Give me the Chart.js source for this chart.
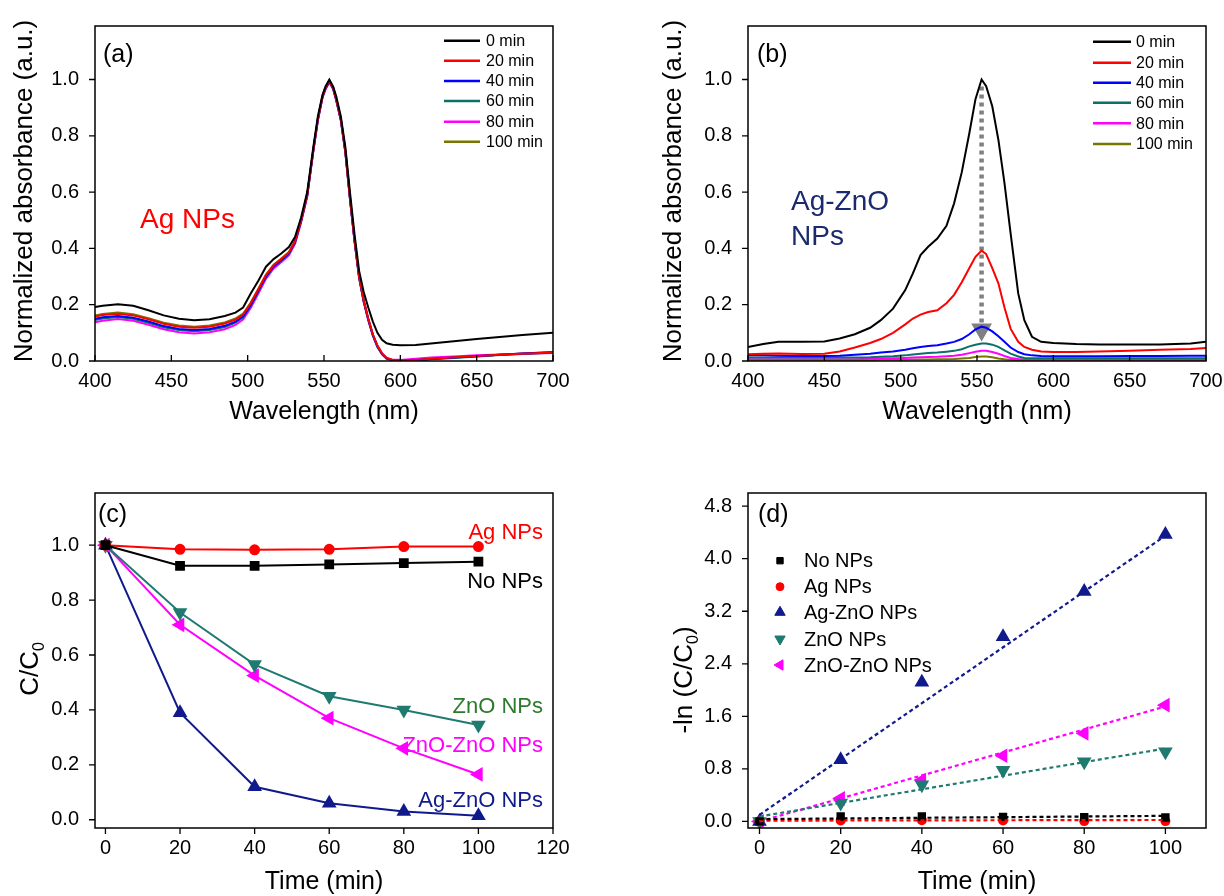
<!DOCTYPE html>
<html>
<head>
<meta charset="utf-8">
<script src="https://cdn.jsdelivr.net/npm/chart.js@4.4.1/dist/chart.umd.min.js"></script>
<style>
  body { margin: 0; background: #fff; width: 1224px; height: 896px; position: relative; overflow: hidden; }
  canvas { position: absolute; }
</style>
</head>
<body>
<canvas id="cA" width="612" height="448" style="left:0;top:0"></canvas>
<canvas id="cB" width="640" height="448" style="left:612px;top:0"></canvas>
<canvas id="cC" width="612" height="448" style="left:0;top:448px"></canvas>
<canvas id="cD" width="640" height="448" style="left:612px;top:448px"></canvas>
<script>
// ── data ─────────────────────────────────────────
const wlA = [400,405,415,425,435,445,455,465,475,485, 492,497,502,507,512,517,522,527,531,535,
  539,543,546,549,551,553.5,556,558,561,564, 567,570,573,576,579,582,585,588,591,595,
  600,610,620,635,650,665,680,700];
const absA0 = [0.192,0.196,0.202,0.196,0.180,0.162,0.150,0.145,0.148,0.160, 0.172,0.190,0.240,0.285,0.335,0.362,0.382,0.405,0.440,0.510,
  0.600,0.760,0.870,0.945,0.975,1.000,0.975,0.940,0.870,0.760, 0.600,0.450,0.320,0.245,0.190,0.140,0.100,0.075,0.063,0.058,
  0.056,0.057,0.062,0.070,0.078,0.085,0.092,0.100];
const absA20 = [0.158,0.163,0.168,0.162,0.148,0.132,0.122,0.118,0.122,0.133, 0.147,0.165,0.205,0.255,0.305,0.340,0.362,0.385,0.425,0.500,
  0.590,0.750,0.860,0.940,0.970,0.995,0.970,0.930,0.860,0.745, 0.580,0.430,0.300,0.215,0.150,0.095,0.055,0.028,0.012,0.004,
  0.002,0.004,0.008,0.013,0.018,0.022,0.026,0.030];
const absA40 = [0.150,0.155,0.160,0.154,0.140,0.124,0.114,0.110,0.114,0.125, 0.140,0.158,0.198,0.250,0.300,0.336,0.358,0.382,0.422,0.497,
  0.588,0.748,0.858,0.938,0.968,0.993,0.968,0.928,0.858,0.742, 0.578,0.428,0.298,0.213,0.148,0.093,0.053,0.026,0.010,0.003,
  0.001,0.003,0.007,0.012,0.017,0.022,0.027,0.031];
const absA60 = [0.146,0.151,0.156,0.150,0.136,0.120,0.110,0.106,0.110,0.121, 0.136,0.155,0.195,0.247,0.298,0.334,0.356,0.380,0.420,0.496,
  0.587,0.747,0.857,0.937,0.967,0.992,0.967,0.927,0.857,0.741, 0.577,0.426,0.296,0.211,0.146,0.091,0.050,0.024,0.008,0.002,
  0.000,0.002,0.006,0.011,0.016,0.021,0.025,0.029];
const absA80 = [0.138,0.143,0.149,0.143,0.129,0.113,0.102,0.098,0.102,0.113, 0.128,0.147,0.188,0.240,0.292,0.329,0.351,0.375,0.416,0.492,
  0.584,0.745,0.855,0.935,0.965,0.990,0.965,0.925,0.855,0.740, 0.576,0.425,0.295,0.210,0.145,0.090,0.050,0.024,0.009,0.004,
  0.004,0.008,0.012,0.016,0.020,0.023,0.026,0.028];
const absA100 = [0.162,0.167,0.172,0.166,0.152,0.136,0.126,0.122,0.126,0.137, 0.151,0.168,0.208,0.257,0.307,0.342,0.364,0.387,0.427,0.502,
  0.592,0.752,0.862,0.942,0.972,0.997,0.972,0.932,0.862,0.747, 0.582,0.432,0.302,0.216,0.150,0.094,0.053,0.026,0.010,0.003,
  0.001,0.003,0.007,0.012,0.017,0.022,0.027,0.032];

const wlB = [400,410,420,435,450,460,470,480,487,495, 503,508,513,518,524,530,535,540,545,549,
  553,556,560,564,568,572,577,581,586,592, 600,615,630,650,670,690,700];
const absB0 = [0.050,0.060,0.068,0.068,0.069,0.080,0.095,0.118,0.145,0.186, 0.252,0.311,0.376,0.406,0.435,0.480,0.560,0.670,0.810,0.930,
  1.000,0.976,0.905,0.786,0.632,0.454,0.240,0.145,0.086,0.068, 0.064,0.060,0.059,0.059,0.059,0.062,0.068];
const absB20 = [0.024,0.026,0.027,0.025,0.026,0.034,0.048,0.064,0.078,0.100, 0.130,0.151,0.165,0.174,0.180,0.205,0.235,0.280,0.330,0.370,
  0.392,0.380,0.330,0.276,0.190,0.115,0.068,0.050,0.040,0.034, 0.032,0.032,0.034,0.036,0.040,0.043,0.046];
const absB40 = [0.020,0.020,0.019,0.018,0.018,0.019,0.022,0.026,0.030,0.034, 0.040,0.045,0.050,0.053,0.056,0.062,0.068,0.078,0.095,0.112,
  0.122,0.118,0.105,0.088,0.068,0.048,0.032,0.024,0.020,0.018, 0.017,0.017,0.017,0.018,0.018,0.019,0.019];
const absB60 = [0.012,0.012,0.012,0.012,0.012,0.012,0.012,0.013,0.015,0.017, 0.020,0.023,0.026,0.028,0.030,0.033,0.036,0.042,0.052,0.058,
  0.062,0.062,0.058,0.050,0.038,0.026,0.016,0.011,0.010,0.010, 0.010,0.010,0.010,0.010,0.010,0.010,0.010];
const absB80 = [0.006,0.006,0.006,0.006,0.006,0.006,0.006,0.008,0.009,0.010, 0.011,0.012,0.013,0.014,0.015,0.017,0.019,0.022,0.028,0.033,
  0.036,0.036,0.032,0.026,0.018,0.011,0.007,0.005,0.005,0.005, 0.005,0.005,0.005,0.005,0.005,0.005,0.005];
const absB100 = [0.003,0.003,0.003,0.003,0.003,0.003,0.003,0.003,0.004,0.004, 0.004,0.005,0.005,0.005,0.006,0.006,0.007,0.009,0.011,0.014,
  0.016,0.016,0.013,0.009,0.006,0.004,0.003,0.002,0.002,0.002, 0.002,0.002,0.002,0.002,0.002,0.002,0.002];
const arrowX = [553, 553];
const arrowY = [0.975, 0.112];

const timeMin = [0, 20, 40, 60, 80, 100];
const cNo     = [1.0, 0.925, 0.925, 0.930, 0.935, 0.940];
const cAg     = [1.0, 0.985, 0.983, 0.985, 0.995, 0.995];
const cAgZnO  = [1.0, 0.390, 0.120, 0.060, 0.030, 0.015];
const cZnO    = [1.0, 0.755, 0.565, 0.450, 0.400, 0.345];
const cZnOZnO = [1.0, 0.710, 0.525, 0.370, 0.260, 0.165];

const lnNo     = [0, 0.075, 0.075, 0.070, 0.065, 0.060];
const lnAg     = [0, 0.015, 0.017, 0.015, 0.005, 0.005];
const lnAgZnO  = [0, 0.94, 2.12, 2.81, 3.50, 4.37];
const lnZnO    = [0, 0.28, 0.56, 0.78, 0.91, 1.06];
const lnZnOZnO = [0, 0.35, 0.63, 1.00, 1.34, 1.77];
const fitX       = [0, 100];
const fitNo      = [0.035, 0.085];
const fitAg      = [0.012, 0.022];
const fitAgZnO   = [0.10, 4.35];
const fitZnO     = [0.075, 1.11];
const fitZnOZnO  = [0.0, 1.75];

const tickWl = [400, 450, 500, 550, 600, 650, 700];
const tickAbs = [0, 0.2, 0.4, 0.6, 0.8, 1.0];
const tickTimeC = [0, 20, 40, 60, 80, 100, 120];
const tickC = [0, 0.2, 0.4, 0.6, 0.8, 1.0];
const tickTimeD = [0, 20, 40, 60, 80, 100];
const tickLn = [0, 0.8, 1.6, 2.4, 3.2, 4.0, 4.8];
const timeLabels = ['0 min', '20 min', '40 min', '60 min', '80 min', '100 min'];
const sampleLabels = ['No NPs', 'Ag NPs', 'Ag-ZnO NPs', 'ZnO NPs', 'ZnO-ZnO NPs'];

// ── styles ───────────────────────────────────────
const FONT = '"Liberation Sans", Arial, sans-serif';
const specColors = ['#000000', '#ff0000', '#0000ff', '#0a7068', '#ff00ff', '#767600'];
const navy = '#101a8c', teal = '#1f7a70', magenta = '#ff00ff';

function pts(xs, ys) { return xs.map((x, i) => ({ x, y: ys[i] })); }

function axis(min, max, ticks, size, isX, dec) {
  return {
    type: 'linear', min, max,
    grid: { display: false }, border: { display: false },
    afterBuildTicks: s => { s.ticks = ticks.map(v => ({ value: v })); },
    afterFit: s => { if (isX) s.height = size; else s.width = size; },
    ticks: { color: '#000', font: { family: FONT, size: 20 }, padding: isX ? 0 : 8,
      autoSkip: false, maxRotation: 0, callback: v => dec ? v.toFixed(dec) : String(v) }
  };
}

function drawTitle(ctx, parts, size, cx, cy, rot) {
  ctx.save();
  ctx.translate(cx, cy);
  if (rot) ctx.rotate(-Math.PI / 2);
  const sub = size * 0.62;
  let w = 0;
  parts.forEach(p => { ctx.font = (p.sub ? sub : size) + 'px ' + FONT; w += ctx.measureText(p.t).width; });
  let xx = -w / 2;
  ctx.fillStyle = '#000'; ctx.textAlign = 'left'; ctx.textBaseline = 'middle';
  parts.forEach(p => {
    ctx.font = (p.sub ? sub : size) + 'px ' + FONT;
    ctx.fillText(p.t, xx, p.sub ? size * 0.32 : 0);
    xx += ctx.measureText(p.t).width;
  });
  ctx.restore();
}

const decor = {
  id: 'decor',
  afterDraw(chart, args, o) {
    const { ctx, chartArea: a, scales: { x, y } } = chart;
    ctx.save();
    ctx.strokeStyle = '#000';
    ctx.lineWidth = 1.5;
    ctx.strokeRect(a.left, a.top, a.right - a.left, a.bottom - a.top);
    ctx.lineWidth = 1.3;
    ctx.beginPath();
    x.ticks.forEach(t => {
      const px = x.getPixelForValue(t.value);
      ctx.moveTo(px, a.bottom); ctx.lineTo(px, a.bottom + (o.xIn ? -6 : 6));
    });
    y.ticks.forEach(t => {
      const py = y.getPixelForValue(t.value);
      ctx.moveTo(a.left, py); ctx.lineTo(a.left - 6, py);
    });
    ctx.stroke();

    (o.texts || []).forEach(t => {
      ctx.font = t.size + 'px ' + FONT;
      ctx.fillStyle = t.color || '#000';
      ctx.textAlign = t.align || 'left';
      ctx.textBaseline = t.base || 'alphabetic';
      ctx.fillText(t.text, t.x, t.y);
    });

    if (o.lineLegend) {
      const L = o.lineLegend;
      L.labels.forEach((lab, i) => {
        ctx.strokeStyle = L.colors[i]; ctx.lineWidth = 2.5;
        ctx.beginPath(); ctx.moveTo(L.x0, L.rows[i]); ctx.lineTo(L.x1, L.rows[i]); ctx.stroke();
        ctx.font = L.size + 'px ' + FONT; ctx.fillStyle = '#000';
        ctx.textAlign = 'left'; ctx.textBaseline = 'middle';
        ctx.fillText(lab, L.tx, L.rows[i] + 1);
      });
    }
    if (o.markLegend) {
      const M = o.markLegend;
      M.labels.forEach((lab, i) => {
        ctx.fillStyle = M.colors[i]; ctx.strokeStyle = M.colors[i]; ctx.lineWidth = 1;
        Chart.helpers.drawPoint(ctx, { pointStyle: M.styles[i], radius: M.radius[i], rotation: M.rot[i], borderWidth: 1 }, M.x, M.rows[i]);
        ctx.font = M.size + 'px ' + FONT; ctx.fillStyle = '#000';
        ctx.textAlign = 'left'; ctx.textBaseline = 'middle';
        ctx.fillText(lab, M.tx, M.rows[i] + 1);
      });
    }
    drawTitle(ctx, o.yTitle.parts, o.yTitle.size, o.yTitle.x, o.yTitle.y, true);
    drawTitle(ctx, o.xTitle.parts, o.xTitle.size, o.xTitle.x, o.xTitle.y, false);
    ctx.restore();
  }
};

function base(padTop, padRight) {
  return {
    responsive: false, animation: false, devicePixelRatio: 1,
    layout: { padding: { top: padTop, right: padRight, left: 0, bottom: 0 } },
    elements: { line: { tension: 0 } },
  };
}

function specSets(wl, series) {
  return series.map((s, i) => ({
    type: 'line', data: pts(wl, s), borderColor: specColors[i], borderWidth: 2,
    pointRadius: 0, fill: false
  }));
}

// ── (a) ──────────────────────────────────────────
new Chart(document.getElementById('cA'), {
  type: 'line',
  data: { datasets: specSets(wlA, [absA0, absA20, absA40, absA60, absA80, absA100]) },
  options: Object.assign(base(26, 59), {
    scales: { x: axis(400, 700, tickWl, 87, true, 0), y: axis(0, 1.19, tickAbs, 95, false, 1) },
    plugins: {
      legend: { display: false }, tooltip: { enabled: false },
      decor: {
        xIn: true,
        texts: [
          { text: '(a)', x: 103, y: 55, size: 25, base: 'middle' },
          { text: 'Ag NPs', x: 140, y: 228, size: 28, color: '#ff0000' }
        ],
        lineLegend: { labels: timeLabels, colors: specColors, x0: 444, x1: 480, tx: 486, size: 16,
          rows: [40.7, 60.7, 81, 101, 121.7, 141.7] },
        yTitle: { parts: [{ t: 'Normalized absorbance (a.u.)' }], size: 26, x: 25, y: 191 },
        xTitle: { parts: [{ t: 'Wavelength (nm)' }], size: 25, x: 324, y: 412 }
      }
    }
  }),
  plugins: [decor]
});

// ── (b) ──────────────────────────────────────────
const setsB = specSets(wlB, [absB0, absB20, absB40, absB60, absB80, absB100]);
setsB.push({
  type: 'line', data: pts(arrowX, arrowY), borderColor: '#808080', borderWidth: 4.5,
  borderDash: [4, 4], pointRadius: [0, 7.5], pointStyle: 'triangle', pointRotation: 180,
  pointBackgroundColor: '#808080', pointBorderColor: '#808080'
});
new Chart(document.getElementById('cB'), {
  type: 'line',
  data: { datasets: setsB },
  options: Object.assign(base(26, 46), {
    scales: { x: axis(400, 700, tickWl, 87, true, 0), y: axis(0, 1.19, tickAbs, 136, false, 1) },
    plugins: {
      legend: { display: false }, tooltip: { enabled: false },
      decor: {
        xIn: true,
        texts: [
          { text: '(b)', x: 145, y: 55, size: 25, base: 'middle' },
          { text: 'Ag-ZnO', x: 179, y: 210, size: 28, color: '#1b2a6e' },
          { text: 'NPs', x: 179, y: 245, size: 28, color: '#1b2a6e' }
        ],
        lineLegend: { labels: timeLabels, colors: specColors, x0: 481, x1: 519, tx: 524, size: 16,
          rows: [41.7, 62.7, 82.7, 102.7, 123.3, 144] },
        yTitle: { parts: [{ t: 'Normalized absorbance (a.u.)' }], size: 26, x: 62, y: 191 },
        xTitle: { parts: [{ t: 'Wavelength (nm)' }], size: 25, x: 365, y: 412 }
      }
    }
  }),
  plugins: [decor]
});

// ── (c) ──────────────────────────────────────────
function markSet(xs, ys, color, style, radius, rot, showLine, extra) {
  return Object.assign({
    type: 'line', data: pts(xs, ys), borderColor: color, backgroundColor: color,
    pointBackgroundColor: color, pointBorderColor: color, pointStyle: style,
    pointRadius: radius, pointRotation: rot, borderWidth: 2, showLine
  }, extra || {});
}
new Chart(document.getElementById('cC'), {
  type: 'line',
  data: { datasets: [
    markSet(timeMin, cNo, '#000000', 'rect', 5.5, 0, true),
    markSet(timeMin, cAg, '#ff0000', 'circle', 4.5, 0, true),
    markSet(timeMin, cZnO, teal, 'triangle', 6.5, 180, true),
    markSet(timeMin, cZnOZnO, magenta, 'triangle', 6.5, 270, true),
    markSet(timeMin, cAgZnO, navy, 'triangle', 6.5, 0, true)
  ] },
  options: Object.assign(base(45, 59), {
    scales: { x: axis(-2.8, 120, tickTimeC, 68, true, 0), y: axis(-0.03, 1.19, tickC, 95, false, 1) },
    plugins: {
      legend: { display: false }, tooltip: { enabled: false },
      decor: {
        xIn: false,
        texts: [
          { text: '(c)', x: 98, y: 67, size: 25, base: 'middle' },
          { text: 'Ag NPs', x: 543, y: 91, size: 22, color: '#ff0000', align: 'right' },
          { text: 'No NPs', x: 543, y: 140, size: 22, color: '#000000', align: 'right' },
          { text: 'ZnO NPs', x: 543, y: 265, size: 22, color: '#2d7a2d', align: 'right' },
          { text: 'ZnO-ZnO NPs', x: 543, y: 304, size: 22, color: magenta, align: 'right' },
          { text: 'Ag-ZnO NPs', x: 543, y: 359, size: 22, color: navy, align: 'right' }
        ],
        yTitle: { parts: [{ t: 'C/C' }, { t: '0', sub: true }], size: 26, x: 31, y: 221 },
        xTitle: { parts: [{ t: 'Time (min)' }], size: 25, x: 324, y: 434 }
      }
    }
  }),
  plugins: [decor]
});

// ── (d) ──────────────────────────────────────────
const dash = { pointRadius: 0, borderDash: [4, 3], borderWidth: 2.2 };
new Chart(document.getElementById('cD'), {
  type: 'line',
  data: { datasets: [
    markSet(fitX, fitNo, '#000000', 'rect', 0, 0, true, dash),
    markSet(fitX, fitAg, '#ff0000', 'circle', 0, 0, true, dash),
    markSet(fitX, fitAgZnO, navy, 'triangle', 0, 0, true, dash),
    markSet(fitX, fitZnO, teal, 'triangle', 0, 0, true, dash),
    markSet(fitX, fitZnOZnO, magenta, 'triangle', 0, 0, true, dash),
    markSet(timeMin, lnNo, '#000000', 'rect', 4.5, 0, false),
    markSet(timeMin, lnAg, '#ff0000', 'circle', 4, 0, false),
    markSet(timeMin, lnAgZnO, navy, 'triangle', 6.5, 0, false),
    markSet(timeMin, lnZnO, teal, 'triangle', 6.5, 180, false),
    markSet(timeMin, lnZnOZnO, magenta, 'triangle', 6.5, 270, false)
  ] },
  options: Object.assign(base(45, 46), {
    scales: { x: axis(-2.83, 110, tickTimeD, 68, true, 0), y: axis(-0.1, 5.0, tickLn, 136, false, 1) },
    plugins: {
      legend: { display: false }, tooltip: { enabled: false },
      decor: {
        xIn: false,
        texts: [ { text: '(d)', x: 146, y: 67, size: 25, base: 'middle' } ],
        markLegend: { labels: sampleLabels, colors: ['#000000', '#ff0000', navy, teal, magenta],
          styles: ['rect', 'circle', 'triangle', 'triangle', 'triangle'], radius: [4.5, 4, 6, 6, 6],
          rot: [0, 0, 0, 180, 270], x: 168, tx: 192, size: 20,
          rows: [112.7, 138.7, 164.3, 191, 217] },
        yTitle: { parts: [{ t: '-ln (C/C' }, { t: '0', sub: true }, { t: ')' }], size: 26, x: 73, y: 232 },
        xTitle: { parts: [{ t: 'Time (min)' }], size: 25, x: 365, y: 434 }
      }
    }
  }),
  plugins: [decor]
});
</script>
</body>
</html>
